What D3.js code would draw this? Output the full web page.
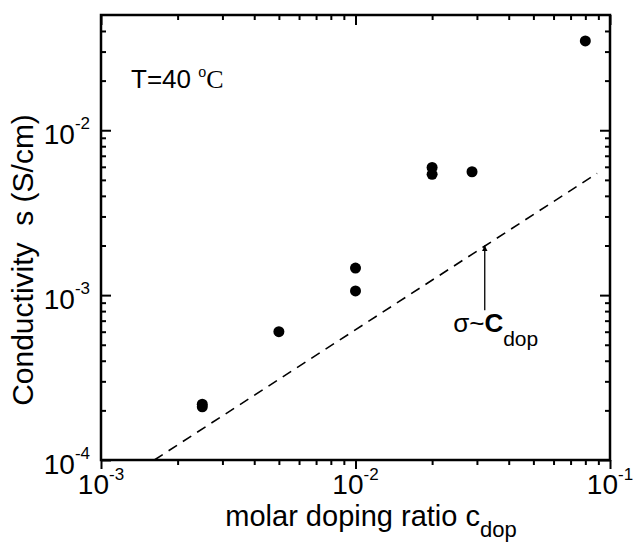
<!DOCTYPE html>
<html>
<head>
<meta charset="utf-8">
<script src="https://cdn.jsdelivr.net/npm/d3@7"></script>
<style>
  body { margin: 0; background: #fff; }
  svg { display: block; }
</style>
</head>
<body>
<div id="chart"></div>
<script>
// measured points (molar doping ratio vs conductivity at 40 C)
const cDop = [0.0025, 0.0025, 0.005, 0.01, 0.01, 0.02, 0.02, 0.0287, 0.08];
const sigma = [2.10e-4, 2.18e-4, 6.0e-4, 1.06e-3, 1.46e-3, 5.4e-3, 5.95e-3, 5.6e-3, 3.48e-2];

// dashed guide line sigma ~ c_dop (end points)
const guideC = [0.00162, 0.089];
const guideSigma = [1.0e-4, 5.48e-3];

// arrow pointing at the guide line
const arrowC = [0.0322, 0.0322];
const arrowSigma = [8.1e-4, 2.0e-3];
const labelPos = [0.0242, 5.95e-4];

const xMajor = [1e-3, 1e-2, 1e-1];
const xMinor = [2e-3, 3e-3, 4e-3, 5e-3, 6e-3, 7e-3, 8e-3, 9e-3, 2e-2, 3e-2, 4e-2, 5e-2, 6e-2, 7e-2, 8e-2, 9e-2];
const xTickExp = ['-3', '-2', '-1'];
const yMajor = [1e-4, 1e-3, 1e-2];
const yMinor = [2e-4, 3e-4, 4e-4, 5e-4, 6e-4, 7e-4, 8e-4, 9e-4, 2e-3, 3e-3, 4e-3, 5e-3, 6e-3, 7e-3, 8e-3, 9e-3, 2e-2, 3e-2, 4e-2];
const yTickExp = ['-4', '-3', '-2'];

const W = 633, H = 543;
const margin = { top: 15, right: 23, bottom: 83, left: 101 };
const SANS = '"Liberation Sans", Arial, Helvetica, sans-serif';
const SERIF = '"Liberation Serif", "Times New Roman", serif';

const svg = d3.select('#chart').append('svg')
  .attr('width', W)
  .attr('height', H)
  .style('font-family', SANS);

const x = d3.scaleLog().domain([1e-3, 1e-1]).range([margin.left, W - margin.right]);
const y = d3.scaleLog().domain([1e-4, 5e-2]).range([H - margin.bottom, margin.top]);

// axes: ticks only, frame drawn separately
function tickAxis(axis, transform) {
  const g = svg.append('g').attr('transform', transform).call(axis);
  g.select('.domain').remove();
  g.selectAll('text').remove();
  g.selectAll('line').attr('stroke', '#000').attr('stroke-width', 2);
  return g;
}
const bottomY = H - margin.bottom, rightX = W - margin.right;
tickAxis(d3.axisBottom(x).tickValues(xMajor).tickSize(9), `translate(0,${bottomY})`);
tickAxis(d3.axisBottom(x).tickValues(xMinor).tickSize(5), `translate(0,${bottomY})`);
tickAxis(d3.axisTop(x).tickValues(xMajor).tickSize(-10), `translate(0,${margin.top})`);
tickAxis(d3.axisTop(x).tickValues(xMinor).tickSize(-5), `translate(0,${margin.top})`);
tickAxis(d3.axisLeft(y).tickValues(yMajor).tickSize(-10), `translate(${margin.left},0)`);
tickAxis(d3.axisLeft(y).tickValues(yMinor).tickSize(-5), `translate(${margin.left},0)`);
tickAxis(d3.axisRight(y).tickValues(yMajor).tickSize(-10), `translate(${rightX},0)`);
tickAxis(d3.axisRight(y).tickValues(yMinor).tickSize(-5), `translate(${rightX},0)`);

svg.append('rect')
  .attr('x', margin.left)
  .attr('y', margin.top)
  .attr('width', rightX - margin.left)
  .attr('height', bottomY - margin.top)
  .attr('fill', 'none')
  .attr('stroke', '#000')
  .attr('stroke-width', 2.5);

// tick labels with superscript exponents
xMajor.forEach((v, i) => {
  const t = svg.append('text')
    .attr('x', x(v))
    .attr('y', bottomY + 34)
    .attr('text-anchor', 'middle')
    .style('font-size', '28px');
  t.append('tspan').text('10');
  t.append('tspan').attr('dy', -14).style('font-size', '17px').text(xTickExp[i]);
});
yMajor.forEach((v, i) => {
  const t = svg.append('text')
    .attr('x', margin.left - 11)
    .attr('y', y(v) + 14)
    .attr('text-anchor', 'end')
    .style('font-size', '28px');
  t.append('tspan').text('10');
  t.append('tspan').attr('dy', -15).style('font-size', '17px').text(yTickExp[i]);
});

// axis titles
const xt = svg.append('text')
  .attr('x', 371)
  .attr('y', 526)
  .attr('text-anchor', 'middle')
  .style('font-size', '29px');
xt.append('tspan').text('molar doping ratio c');
xt.append('tspan').attr('dy', 11).style('font-size', '22px').text('dop');

svg.append('text')
  .attr('transform', `translate(33,260) rotate(-90)`)
  .attr('text-anchor', 'middle')
  .style('font-size', '30px')
  .style('white-space', 'pre')
  .text('Conductivity  s (S/cm)');

// guide line
svg.append('line')
  .attr('x1', x(guideC[0])).attr('y1', y(guideSigma[0]))
  .attr('x2', x(guideC[1])).attr('y2', y(guideSigma[1]))
  .attr('stroke', '#000')
  .attr('stroke-width', 1.6)
  .attr('stroke-dasharray', '10,7');

// arrow
svg.append('defs').append('marker')
  .attr('id', 'head')
  .attr('viewBox', '0 0 10 10')
  .attr('refX', 10).attr('refY', 5)
  .attr('markerWidth', 6).attr('markerHeight', 11)
  .attr('markerUnits', 'userSpaceOnUse')
  .attr('orient', 'auto')
  .append('path').attr('d', 'M0,0L10,5L0,10Z').attr('fill', '#000');
svg.append('line')
  .attr('x1', x(arrowC[0])).attr('y1', y(arrowSigma[0]))
  .attr('x2', x(arrowC[1])).attr('y2', y(arrowSigma[1]))
  .attr('stroke', '#000')
  .attr('stroke-width', 1.3)
  .attr('marker-end', 'url(#head)');

const lab = svg.append('text')
  .attr('x', x(labelPos[0]))
  .attr('y', y(labelPos[1]))
  .style('font-size', '26px');
lab.append('tspan').text('σ~');
lab.append('tspan').style('font-weight', 'bold').text('C');
lab.append('tspan').attr('dy', 14).style('font-size', '21px').text('dop');

// temperature note
const tn = svg.append('text')
  .attr('x', 131)
  .attr('y', 88)
  .style('font-size', '26px')
  .style('white-space', 'pre');
tn.append('tspan').text('T=40 ');
tn.append('tspan').attr('dy', -11).style('font-family', SERIF).style('font-size', '16px').text('o');
tn.append('tspan').attr('dy', 11).style('font-family', SERIF).text('C');

// data points
svg.append('g')
  .selectAll('circle')
  .data(cDop)
  .join('circle')
  .attr('cx', d => x(d))
  .attr('cy', (d, i) => y(sigma[i]))
  .attr('r', 5.5)
  .attr('fill', '#000');
</script>
</body>
</html>
